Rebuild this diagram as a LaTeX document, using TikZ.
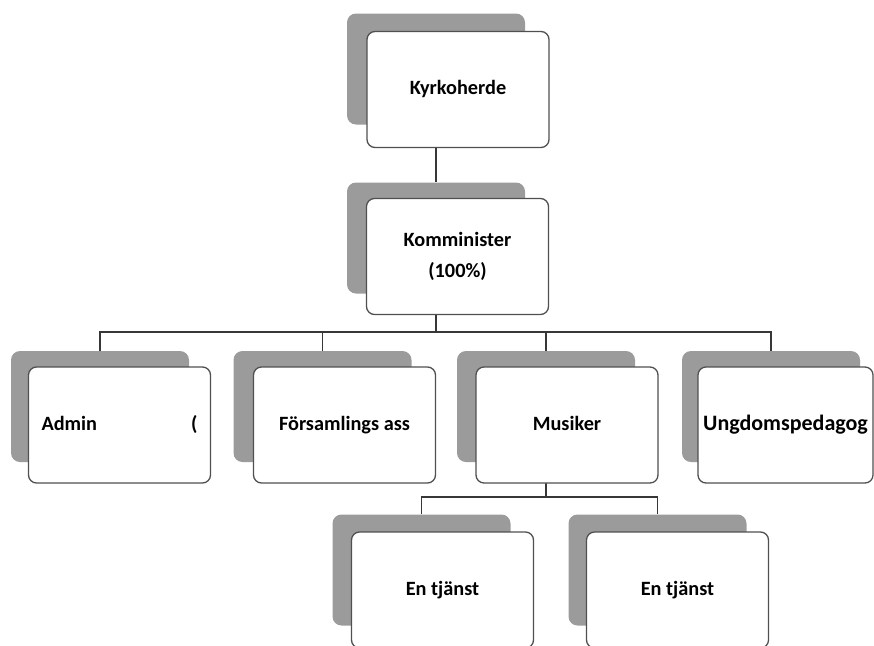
\documentclass[tikz,border=0pt]{standalone}
\usepackage{fontspec}
\setmainfont{Carlito}
\usetikzlibrary{backgrounds}
\definecolor{shadowgray}{RGB}{155,155,155}
\definecolor{boxline}{RGB}{80,80,80}
\definecolor{linkcol}{RGB}{55,55,55}
\begin{document}
\begin{tikzpicture}[x=1pt,y=-1pt,
  shadowbox/.style={fill=shadowgray, rounded corners=9pt, minimum width=178pt, minimum height=111pt, inner sep=0pt},
  frontbox/.style={draw=boxline, fill=white, line width=1.3pt, rounded corners=8pt, minimum width=182pt, minimum height=116pt, inner sep=0pt, align=center, text height=14pt, text depth=4pt, font=\fontsize{20.3}{31}\selectfont\bfseries},
  link/.style={draw=linkcol, line width=1.2pt}]
\useasboundingbox (0,0) rectangle (874,645);
\clip (0,0) rectangle (874,645);
% shadows
\node[shadowbox] (sk) at (436,69) {};
\node[shadowbox] (skm) at (436,238) {};
\node[shadowbox] (sa) at (100,406.5) {};
\node[shadowbox] (sf) at (322.5,406.5) {};
\node[shadowbox] (sm) at (546,406.5) {};
\node[shadowbox] (su) at (771,406.5) {};
\node[shadowbox] (se1) at (421.5,570) {};
\node[shadowbox] (se2) at (657.5,570) {};
% front boxes
\node[frontbox] (k) at (458,89.5) {Kyrkoherde};
\node[frontbox, text height=, text depth=] (km) at (457.5,256.5) {Komminister\\(100\%)};
\node[frontbox] (a) at (119.5,425) {\makebox[156pt]{Admin\hfill(}};
\node[frontbox] (f) at (344.5,425) {Församlings ass};
\node[frontbox] (m) at (567,425) {Musiker};
\node[frontbox, minimum width=175pt, font=\fontsize{22}{31}\selectfont\bfseries] (u) at (785.5,425) {Ungdomspedagog};
\node[frontbox] (e1) at (442.5,590) {En tjänst};
\node[frontbox] (e2) at (677.5,590) {En tjänst};
% connectors
\coordinate (bus) at (436,332);
\coordinate (mbus) at (546,497);
\begin{pgfonlayer}{background}
\draw[link] (sk.south) -- (skm.north);
\draw[link] (skm.south) -- (bus);
\draw[link] (sa.north) |- (bus);
\draw[link] (sf.north) |- (bus);
\draw[link] (sm.north) |- (bus);
\draw[link] (su.north) |- (bus);
\draw[link] (sm.south) -- (mbus);
\draw[link] (se1.north) |- (mbus);
\draw[link] (se2.north) |- (mbus);
\end{pgfonlayer}
\end{tikzpicture}
\end{document}
